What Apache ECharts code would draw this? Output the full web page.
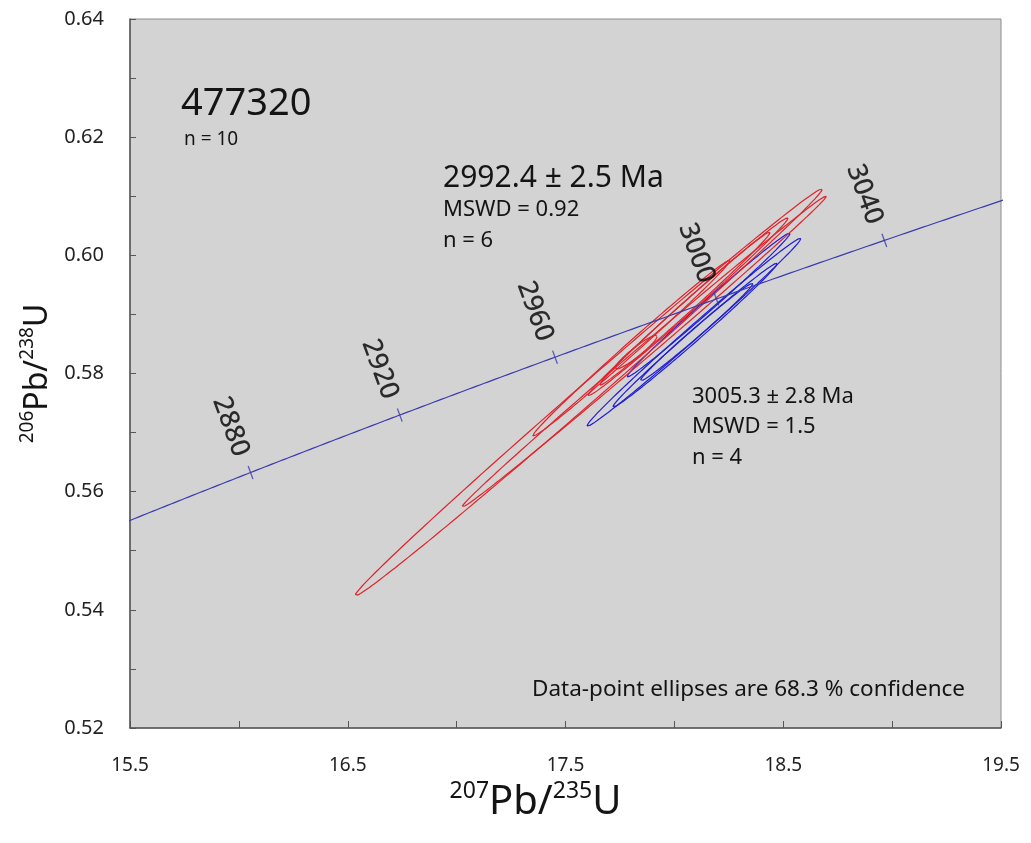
<!DOCTYPE html>
<html>
<head>
<meta charset="utf-8">
<title>477320 concordia</title>
<script src="https://cdn.jsdelivr.net/npm/echarts@6/dist/echarts.min.js"></script>
<style>
  html, body { margin: 0; padding: 0; background: #ffffff; }
  #chart { width: 1031px; height: 843px; }
</style>
</head>
<body>
<div id="chart"></div>
<script>
// Decay constants of 238U and 235U (per year)
const LAMBDA_238 = 1.55125e-10;
const LAMBDA_235 = 9.8485e-10;

// Ages (Ma) marked on the concordia curve
const concordiaTickAges = [2880, 2920, 2960, 3000, 3040];
// Age span of the plotted concordia (Ma); the axes clip it
const concordiaAgeStart = 2830;
const concordiaAgeEnd = 3080;

// Tick labels
const xTickLabels = ['15.5', '16.5', '17.5', '18.5', '19.5'];
const yTickLabels = ['0.52', '0.54', '0.56', '0.58', '0.60', '0.62', '0.64'];

// Group of 6 analyses (red): 207Pb/235U, 1 sigma, 206Pb/238U, 1 sigma, error correlation
const redX   = [17.606, 17.861, 17.803, 18.063, 17.824, 18.049];
const redSx  = [0.708, 0.552, 0.299, 0.303, 0.064, 0.258];
const redY   = [0.5768, 0.5837, 0.5843, 0.5913, 0.5836, 0.5910];
const redSy  = [0.02273, 0.01737, 0.00983, 0.00994, 0.0019, 0.00855];
const redRho = [0.998, 0.9985, 0.9958, 0.9959, 0.94, 0.9953];

// Group of 4 analyses (blue)
const blueX   = [18.090, 18.095, 18.157, 18.102];
const blueSx  = [0.324, 0.249, 0.247, 0.171];
const blueY   = [0.5870, 0.5865, 0.5916, 0.5870];
const blueSy  = [0.0105, 0.00804, 0.00804, 0.00547];
const blueRho = [0.9958, 0.9948, 0.9948, 0.9926];

// 68.3 % confidence region of a bivariate normal
const CONF_K = Math.sqrt(-2 * Math.log(1 - 0.683));

const SANS = '"Noto Sans", "Open Sans", "DejaVu Sans", sans-serif';
const INK = '#141414';

function concordiaPoint(ageMa) {
  const t = ageMa * 1e6;
  return [Math.exp(LAMBDA_235 * t) - 1, Math.exp(LAMBDA_238 * t) - 1];
}

function ellipseOutline(cx, sx, cy, sy, rho) {
  const pts = [];
  const n = 200;
  const q = Math.sqrt(1 - rho * rho);
  for (let i = 0; i <= n; i++) {
    const a = (2 * Math.PI * i) / n;
    const c = Math.cos(a), s = Math.sin(a);
    pts.push([cx + CONF_K * sx * c, cy + CONF_K * sy * (rho * c + q * s)]);
  }
  return pts;
}

const concordiaData = [];
for (let age = concordiaAgeStart; age <= concordiaAgeEnd; age += 1) {
  concordiaData.push(concordiaPoint(age));
}

function ellipseSeries(xs, sxs, ys, sys, rhos, color, prefix) {
  return xs.map((x, i) => ({
    name: prefix + (i + 1),
    type: 'line',
    data: ellipseOutline(x, sxs[i], ys[i], sys[i], rhos[i]),
    showSymbol: false,
    smooth: false,
    silent: true,
    lineStyle: { color: color, width: 1.2 },
    z: 3
  }));
}

const series = [
  ...ellipseSeries(blueX, blueSx, blueY, blueSy, blueRho, '#1e1ed8', 'B'),
  ...ellipseSeries(redX, redSx, redY, redSy, redRho, '#e0232b', 'R'),
  {
    name: 'Concordia',
    type: 'line',
    data: concordiaData,
    showSymbol: false,
    silent: true,
    lineStyle: { color: '#3b3bb0', width: 1.2 },
    z: 4
  },
  {
    name: 'Concordia ticks',
    type: 'scatter',
    data: concordiaTickAges.map(a => concordiaPoint(a).concat([a])),
    symbol: 'rect',
    symbolSize: [1.3, 14],
    symbolRotate: 20,
    itemStyle: { color: '#3b3bb0' },
    silent: true,
    z: 5,
    label: {
      show: true,
      position: 'inside',
      formatter: p => String(p.value[2]),
      rotate: -70,
      // offset is taken along the rotated text: back along the reading direction
      offset: [-50, 3],
      fontFamily: SANS,
      fontSize: 27,
      fontWeight: 500,
      color: '#000000',
      textBorderWidth: 0,
      align: 'center',
      verticalAlign: 'middle'
    }
  }
];

function note(text, x, y, size, align) {
  return {
    type: 'text',
    x: x, y: y,
    silent: true,
    z: 10,
    style: {
      text: text,
      font: size + 'px ' + SANS,
      fill: INK,
      textAlign: align || 'left',
      textVerticalAlign: 'middle'
    }
  };
}

const chart = echarts.init(document.getElementById('chart'), null, { renderer: 'canvas' });

chart.setOption({
  animation: false,
  backgroundColor: '#ffffff',
  grid: {
    left: 130, top: 19, right: 30, bottom: 115,
    show: true,
    backgroundColor: '#d3d3d3',
    borderColor: '#8c8c8c',
    borderWidth: 1
  },
  xAxis: {
    type: 'value',
    min: 15.5, max: 19.5, interval: 0.5,
    splitLine: { show: false },
    axisLine: { show: true, onZero: false, lineStyle: { color: '#555555', width: 1.5 } },
    axisTick: { show: true, inside: true, length: 7, lineStyle: { color: '#555555', width: 1 } },
    axisLabel: {
      margin: 28,
      fontFamily: SANS,
      fontSize: 19,
      color: '#222222',
      formatter: v => { const s = v.toFixed(1); return xTickLabels.includes(s) ? s : ''; }
    },
    name: '{sup|207}{big|Pb/}{sup|235}{big|U}',
    nameLocation: 'middle',
    nameGap: 42,
    nameTextStyle: {
      padding: [0, 60, 0, 0],
      rich: {
        sup: { fontFamily: SANS, fontSize: 23, color: INK, verticalAlign: 'top', lineHeight: 24 },
        big: { fontFamily: SANS, fontSize: 40, color: INK, lineHeight: 46 }
      }
    }
  },
  yAxis: {
    type: 'value',
    min: 0.52, max: 0.64, interval: 0.01,
    splitLine: { show: false },
    axisLine: { show: true, onZero: false, lineStyle: { color: '#555555', width: 1.5 } },
    axisTick: { show: true, inside: true, length: 6, lineStyle: { color: '#555555', width: 1 } },
    axisLabel: {
      margin: 26,
      fontFamily: SANS,
      fontSize: 20,
      color: '#222222',
      formatter: v => { const s = v.toFixed(2); return yTickLabels.includes(s) ? s : ''; }
    },
    name: '{sup|206}{big|Pb/}{sup|238}{big|U}',
    nameLocation: 'middle',
    nameRotate: 90,
    nameGap: 64,
    nameTextStyle: {
      rich: {
        sup: { fontFamily: SANS, fontSize: 19, color: INK, verticalAlign: 'top', lineHeight: 20 },
        big: { fontFamily: SANS, fontSize: 32, color: INK, lineHeight: 38 }
      }
    }
  },
  graphic: [
    note('477320', 181, 104, 38),
    note('n = 10', 184, 140, 19),
    note('2992.4 \u00b1 2.5 Ma', 443, 178, 30),
    note('MSWD = 0.92', 443, 210, 22),
    note('n = 6', 443, 241, 22),
    note('3005.3 \u00b1 2.8 Ma', 692, 397, 22),
    note('MSWD = 1.5', 692, 427, 22),
    note('n = 4', 692, 458, 22),
    note('Data-point ellipses are 68.3 % confidence', 532, 690, 22.5, 'left')
  ],
  series: series
});
</script>
</body>
</html>
